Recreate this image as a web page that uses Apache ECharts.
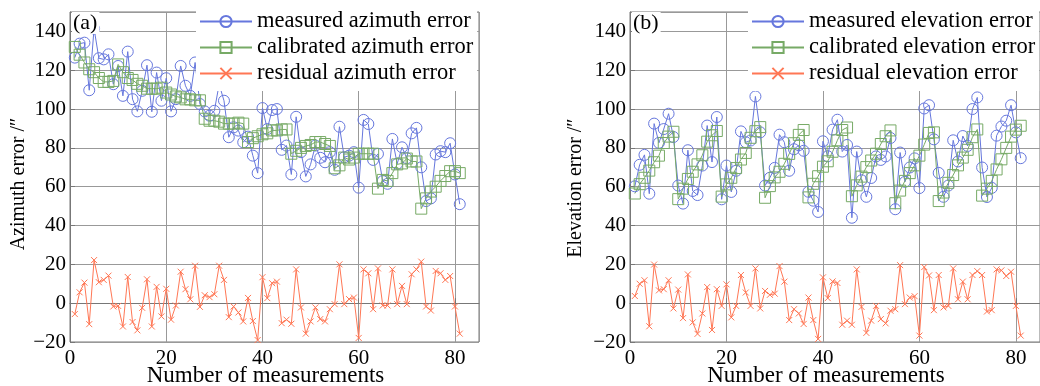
<!DOCTYPE html>
<html>
<head>
<meta charset="utf-8">
<script src="https://cdn.jsdelivr.net/npm/echarts@6.0.0/dist/echarts.min.js"></script>
<style>
  html, body { margin: 0; padding: 0; background: #fff; }
  #chart { width: 1040px; height: 386px; }
</style>
</head>
<body>
<div id="chart"></div>
<script>
// (a) azimuth, measurement 1..81
const azMeasured = [
  126.5, 133.7, 134.2, 109.7, 141.5, 126.2, 125.6, 128.2, 112.8, 122.2,
  106.8, 129.6, 105.1, 98.8, 109.4, 122.6, 98.6, 118.8, 104.3, 115.9,
  98.8, 105.1, 122.2, 112, 106.8, 124, 102.6, 98.8, 96.6, 99.1,
  112.8, 104.3, 85.5, 90.6, 88.9, 82.9, 85.8, 76, 67, 100.5,
  89.7, 99.5, 100, 79, 81.2, 66.3, 96, 77.8, 65.3, 71.5,
  81.2, 74.9, 72.6, 77.8, 68.7, 90.9, 75.2, 76, 77.8, 59.5,
  94.4, 92.3, 73.8, 76.9, 62.9, 61.5, 84.6, 71.8, 80.3, 74.7,
  87.5, 90.3, 70, 52.6, 54, 76.6, 78.3, 77.8, 82.4, 66.3,
  51
];
const azCalibrated = [
  132, 128, 124, 120.5, 119, 116, 114, 114, 114.5, 123,
  119, 116, 115, 113, 112, 110.5, 110.5, 110.5, 111, 108.5,
  107.5, 106.5, 106, 105, 105, 104.5, 104.5, 95, 94, 94,
  93.5, 92.5, 92.5, 92.5, 93, 92.5, 83, 85, 86, 87,
  87.5, 89, 89, 89.5, 89.5, 77, 78.5, 80, 81, 81.5,
  83, 83, 82, 81, 69.5, 71, 75, 74, 75, 77,
  77, 77, 77, 59, 63.5, 63, 67, 71.5, 72, 74.5,
  73, 73, 48.7, 54, 57.5, 60, 63, 65.5, 68, 68,
  67
];
const azResidual = [
  -5.6, 5.6, 10.6, -10.8, 22.2, 10.8, 12, 14.2, -1.7, -1.4,
  -12, 13.5, -9.7, -14, -2.4, 12.3, -12, 8.4, -6.8, 7.4,
  -8.5, -1.2, 16.2, 7.2, 2, 19.3, -1.9, 4.1, 3.1, 4.6,
  19.3, 12, -7.2, -1.7, -4.8, -9.4, 2.7, -9.2, -19, 13.4,
  2.6, 10.3, 11.1, -10.3, -8.5, -10.6, 17.4, -2.2, -15.7, -9.4,
  -2.2, -8.2, -9.4, -3.1, -0.5, 20, -0.5, 2.1, 2.9, -17.9,
  17.4, 15.4, -3.1, 17.9, -1.2, -1.2, 17.4, -0.5, 8.9, -0.5,
  14.9, 17.4, 21.4, -1.7, -3.8, 16.6, 15.4, 12, 14, -1.7,
  -15.7
];

// (b) elevation
const elMeasured = [
  60.2, 71.3, 76.4, 56.4, 92.5, 82.6, 89.7, 97.6, 85.6, 60.6,
  51.3, 78.8, 57.8, 55.7, 70.9, 91.5, 72.7, 95.9, 53.5, 70.9,
  57.3, 68.2, 88.5, 82.9, 83.8, 106.5, 88, 60.6, 64.6, 69.7,
  86.8, 82.9, 68.2, 79.3, 81.4, 78.5, 57.4, 52.8, 47, 83.4,
  75.7, 89.4, 94.5, 78.1, 81.5, 44, 78.1, 63.3, 54.8, 64.5,
  75.6, 73.8, 75.6, 85.1, 48.4, 77.6, 62.5, 69.9, 74.6, 59.3,
  100.3, 102, 84.4, 67.1, 54.8, 60.6, 83.9, 73, 86.1, 81,
  100, 106, 69.9, 54.7, 59.4, 86.3, 91, 94, 102, 88,
  74.7
];
const elCalibrated = [
  56.5, 61.3, 64.6, 68.3, 72.6, 76, 82.5, 85.8, 88.3, 53.6,
  59, 64, 67.7, 71.5, 76.2, 83.2, 86.5, 88.7, 54.9, 61.2,
  64.6, 69.6, 74, 77.4, 85.2, 88.6, 90.7, 54.3, 60.3, 64.8,
  67.7, 71.8, 76.9, 82.4, 86.7, 89.2, 54.5, 61.5, 65.4, 70.3,
  73.1, 78, 83.9, 89.2, 90.5, 55.1, 60.7, 65.2, 70.1, 73.5,
  77, 82, 86, 89, 51.5, 58, 63, 67, 71, 76,
  81.7, 87.7, 88, 52.6, 57, 62, 66, 71, 75, 79,
  85.5, 89.5, 55.4, 59, 63, 68.9, 74.1, 80, 85.8, 89.4,
  91.4
];
const elResidual = [
  3.7, 10, 11.8, -11.9, 19.9, 6.6, 7.2, 11.8, -2.7, 7,
  -7.7, 14.8, -9.9, -15.8, -5.3, 8.3, -13.8, 7.2, -1.4, 9.7,
  -7.3, -1.4, 14.5, 5.5, -1.4, 17.9, -2.7, 6.3, 4.3, 4.9,
  19.1, 11.1, -8.7, -3.1, -5.3, -10.7, 2.9, -8.7, -18.4, 13.3,
  2.6, 11.2, 10.4, -11.1, -9, -11.1, 17.4, -1.9, -15.3, -9,
  -1.4, -8.2, -10.4, -3.9, -3.1, 19.6, -0.5, 2.9, 3.6, -16.7,
  18.6, 14.3, -3.6, 14.5, -2.2, -1.4, 17.9, 2, 11.1, 2,
  14.5, 16.5, 14.5, -4.3, -3.6, 17.4, 16.9, 14, 16.2, -1.4,
  -16.7
];

const FONT = 'Liberation Serif';
const BLUE = '#6677dd';
const GREEN = '#77aa66';
const ORANGE = '#ff7755';
const CROSS = 'path://M0,0L10,10M10,0L0,10';

function pairs(vals) {
  return vals.map((v, i) => [i + 1, v]);
}

function minus(v) {
  return v < 0 ? '\u2212' + Math.abs(v) : String(v);
}

function xAxis(gi, shift) {
  return {
    type: 'value', gridIndex: gi, min: 0, max: 85, interval: 20,
    name: 'Number of measurements', nameLocation: 'middle', nameGap: 22, nameMoveOverlap: false,
    nameTextStyle: { fontFamily: FONT, fontSize: 23, color: '#000', padding: [0, shift, 0, 0] },
    axisLine: { lineStyle: { color: '#777' } },
    axisTick: { inside: true, length: 5, lineStyle: { color: '#777' } },
    axisLabel: { showMaxLabel: false, fontFamily: FONT, fontSize: 21, color: '#000', margin: 6 },
    splitLine: { show: true, lineStyle: { color: '#999', width: 1 } }
  };
}

function yAxis(gi) {
  return {
    type: 'value', gridIndex: gi, min: -20, max: 150, interval: 20,
    axisLine: { lineStyle: { color: '#777' } },
    axisTick: { inside: true, length: 5, lineStyle: { color: '#777' } },
    axisLabel: { showMaxLabel: false, fontFamily: FONT, fontSize: 21, color: '#000', margin: 4, formatter: minus },
    splitLine: { show: true, lineStyle: { color: '#999', width: 1 } }
  };
}

// rotated y axis titles, placed as in the figure
function yTitle(text, x, y) {
  return {
    type: 'text', x: x, y: y, rotation: Math.PI / 2,
    style: { text: text, font: '20px "Liberation Serif"', fill: '#000', align: 'center', verticalAlign: 'middle' }
  };
}

function panelTag(text, left) {
  return {
    type: 'text', left: left, top: 12, z: 100,
    style: { text: text, font: '22px "Liberation Serif"', fill: '#000', backgroundColor: '#fff', padding: [0, 2, 0, 1] }
  };
}

function line(name, gi, vals, color, symbol, size) {
  return {
    name: name, type: 'line', xAxisIndex: gi, yAxisIndex: gi,
    data: pairs(vals), symbol: symbol, symbolSize: size, showAllSymbol: true,
    lineStyle: { color: color, width: 1 },
    itemStyle: { color: 'rgba(255,255,255,0)', borderColor: color, borderWidth: 1 },
    emphasis: { disabled: true }
  };
}

function legend(left, names) {
  return {
    data: names, orient: 'vertical', left: left, top: 8,
    itemWidth: 52, itemHeight: 14, itemGap: 3,
    backgroundColor: '#fff', padding: [2, 4, 6, 3],
    selectedMode: false,
    textStyle: { fontFamily: FONT, fontSize: 22.5, color: '#000', lineHeight: 20 }
  };
}

const azNames = ['measured azimuth error', 'calibrated azimuth error', 'residual azimuth error'];
const elNames = ['measured elevation error', 'calibrated elevation error', 'residual elevation error'];

const chart = echarts.init(document.getElementById('chart'));
chart.setOption({
  animation: false,
  backgroundColor: '#fff',
  grid: [
    { left: 70, top: 12, width: 409, height: 330, outerBoundsMode: 'none', show: true, borderColor: '#777', borderWidth: 1 },
    { left: 630, top: 12, width: 410, height: 330, outerBoundsMode: 'none', show: true, borderColor: '#777', borderWidth: 1 }
  ],
  xAxis: [xAxis(0, 18), xAxis(1, 18)],
  yAxis: [yAxis(0), yAxis(1)],
  legend: [legend(196, azNames), legend(748, elNames)],
  graphic: [
    panelTag('(a)', 72),
    panelTag('(b)', 632),
    yTitle('Azimuth error /\u2033', 19, 184),
    yTitle('Elevation error /\u2033', 576, 188)
  ],
  series: [
    line(azNames[0], 0, azMeasured, BLUE, 'circle', 11),
    line(azNames[1], 0, azCalibrated, GREEN, 'rect', 11),
    line(azNames[2], 0, azResidual, ORANGE, CROSS, 6),
    line(elNames[0], 1, elMeasured, BLUE, 'circle', 11),
    line(elNames[1], 1, elCalibrated, GREEN, 'rect', 11),
    line(elNames[2], 1, elResidual, ORANGE, CROSS, 6)
  ]
});
</script>
</body>
</html>
